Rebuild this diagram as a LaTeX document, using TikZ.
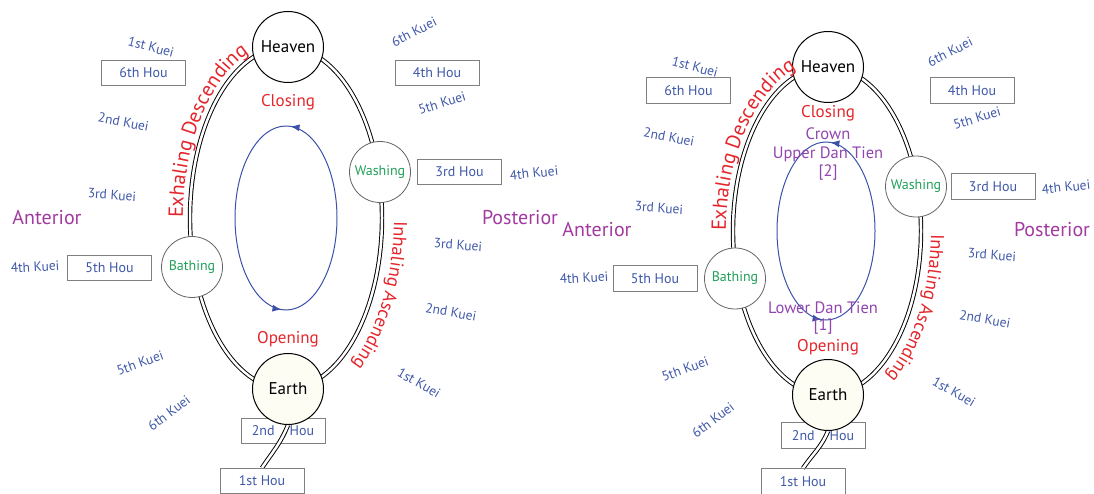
\documentclass[tikz,border=0pt]{standalone}
\usepackage{fontspec}
\setmainfont{PT Sans}
\usetikzlibrary{decorations.text,decorations.markings,arrows.meta}
\pgfdeclarelayer{background}
\pgfsetlayers{background,main}
\definecolor{tred}{RGB}{228,38,44}
\definecolor{tblue}{RGB}{63,88,168}
\definecolor{tgreen}{RGB}{34,160,90}
\definecolor{tpurp}{RGB}{162,58,160}
\definecolor{tviol}{RGB}{145,70,175}
\definecolor{eblue}{RGB}{60,82,170}
\definecolor{boxgray}{RGB}{128,128,128}
\definecolor{ivory}{RGB}{253,253,244}
\begin{document}
\begin{tikzpicture}[x=1pt,y=1pt,
 channel/.style={draw=black, double=white, double distance=2.5pt, line width=0.95pt},
 bigc/.style={circle, draw=black, line width=1pt, fill=white, minimum size=71pt, inner sep=0pt, font=\fontsize{17}{20}\selectfont},
 smallc/.style={circle, draw=black!60, line width=0.8pt, fill=white, minimum size=61pt, inner sep=0pt, text=tgreen, font=\fontsize{14}{16}\selectfont},
 hou/.style={draw=boxgray, line width=0.9pt, minimum width=84pt, minimum height=25.5pt, inner sep=0pt, text=tblue, font=\fontsize{14}{16}\selectfont},
 kuei/.style={text=tblue, font=\fontsize{13.5}{16}\selectfont, inner sep=0pt},
 side/.style={text=tpurp, font=\fontsize{20}{24}\selectfont, inner sep=0pt},
 phase/.style={text=tred, font=\fontsize{17}{20}\selectfont, inner sep=0pt},
 dan/.style={text=tviol, font=\fontsize{16.5}{19}\selectfont, inner sep=0pt},
 orbit/.style={draw=eblue, line width=1pt, postaction={decorate},
   decoration={markings,
     mark=at position #1 with {\arrow{Latex[length=9pt,width=7pt]}},
     mark=at position #1+0.5 with {\arrow{Latex[length=9pt,width=7pt]}}}},
 flowtext/.style n args={2}{decorate, decoration={text along path, text align=left,
   text={|\color{tred}\fontsize{#1}{24}\selectfont|#2}}},
]
\useasboundingbox (0,0) rectangle (1094,493);

%================ LEFT DIAGRAM =================
\node[bigc] (LH) at (288,446) {Heaven};
\node[bigc, fill=ivory] (LE) at (288,104) {Earth};
\node[smallc] (LW) at (380,321) {Washing};
\node[smallc] (LB) at (192,226) {Bathing};
\node[hou] (LH6) at (143.5,420) {6th Hou};
\node[hou] (LH4) at (437,420) {4th Hou};
\node[hou] (LH3) at (459.5,321) {3rd Hou};
\node[hou] (LH5) at (109.5,225) {5th Hou};
\node[hou] (LH1) at (262,12) {1st Hou};
\begin{pgfonlayer}{background}
\draw[channel] (286,275) ellipse [x radius=96, y radius=171];
\node[hou] (LH2) at (283,62) {2nd\hspace{15pt}Hou};
\draw[channel] (LE.south) to[out=-112,in=56] (LH1.north);
\end{pgfonlayer}
\draw[orbit=0.24] (286,275) ellipse [x radius=51, y radius=92];
\node[phase] (LCl) at (288,391) {Closing};
\node[phase] (LOp) at (288,154) {Opening};
\path[flowtext={20.5}{Exhaling Descending}] (183,275) arc[start angle=180, end angle=95, x radius=103, y radius=177];
\path[flowtext={18.5}{Inhaling Ascending}] (394,271.8) arc[start angle=-1, end angle=-80, x radius=108, y radius=185];
\node[side] (LAn) at (47,275) {Anterior};
\node[side] (LPo) at (520,275) {Posterior};
\node[kuei, rotate=-15] (LK1a) at (151,446) {1st Kuei};
\node[kuei, rotate=-11] (LK2a) at (123.5,371) {2nd Kuei};
\node[kuei, rotate=-4] (LK3a) at (112,298) {3rd Kuei};
\node[kuei, rotate=3] (LK4a) at (35,226) {4th Kuei};
\node[kuei, rotate=20] (LK5a) at (140,130) {5th Kuei};
\node[kuei, rotate=37] (LK6a) at (169,80) {6th Kuei};
\node[kuei, rotate=-30] (LK1b) at (419,110) {1st Kuei};
\node[kuei, rotate=-10] (LK2b) at (451,181) {2nd Kuei};
\node[kuei, rotate=-4] (LK3b) at (458,248) {3rd Kuei};
\node[kuei, rotate=6] (LK4b) at (534,320) {4th Kuei};
\node[kuei, rotate=17] (LK5b) at (442,390) {5th Kuei};
\node[kuei, rotate=27] (LK6b) at (414,461) {6th Kuei};

%================ RIGHT DIAGRAM =================
\node[bigc] (RH) at (828,426) {Heaven};
\node[bigc, fill=ivory] (RE) at (828,98) {Earth};
\node[smallc] (RW) at (916,306.5) {Washing};
\node[smallc] (RB) at (735,214.5) {Bathing};
\node[hou] (RH6) at (688.5,402.5) {6th Hou};
\node[hou] (RH4) at (972,402.5) {4th Hou};
\node[hou] (RH3) at (993,306.5) {3rd Hou};
\node[hou] (RH5) at (655,214.5) {5th Hou};
\node[hou] (RH1) at (803,11.5) {1st Hou};
\begin{pgfonlayer}{background}
\draw[channel] (827,262) ellipse [x radius=94, y radius=164];
\node[hou] (RH2) at (823,57.5) {2nd\hspace{15pt}Hou};
\draw[channel] (RE.south) to[out=-112,in=56] (RH1.north);
\end{pgfonlayer}
\draw[orbit=0.24] (826,262) ellipse [x radius=49, y radius=89];
\node[phase] (RCl) at (828,380) {Closing};
\node[dan] (RCr) at (828,359) {Crown};
\node[dan] (RUp) at (828,339) {Upper Dan Tien};
\node[dan] (RU2) at (828,320) {[2]};
\node[dan] (RLo) at (823,185) {Lower Dan Tien};
\node[dan] (RL1) at (823,166) {[1]};
\node[phase] (ROp) at (828,146) {Opening};
\path[flowtext={20.5}{Exhaling Descending}] (726,262) arc[start angle=180, end angle=95, x radius=101, y radius=170];
\path[flowtext={18.5}{Inhaling Ascending}] (931,258.9) arc[start angle=-1, end angle=-80, x radius=104, y radius=176];
\node[side] (RAn) at (597,263) {Anterior};
\node[side] (RPo) at (1052,263) {Posterior};
\node[kuei, rotate=-15] (RK1a) at (695,426) {1st Kuei};
\node[kuei, rotate=-11] (RK2a) at (669,356) {2nd Kuei};
\node[kuei, rotate=-4] (RK3a) at (659,285) {3rd Kuei};
\node[kuei, rotate=3] (RK4a) at (584,215) {4th Kuei};
\node[kuei, rotate=20] (RK5a) at (685,124) {5th Kuei};
\node[kuei, rotate=37] (RK6a) at (713,73) {6th Kuei};
\node[kuei, rotate=-30] (RK1b) at (954,101) {1st Kuei};
\node[kuei, rotate=-10] (RK2b) at (985,174) {2nd Kuei};
\node[kuei, rotate=-4] (RK3b) at (992,238) {3rd Kuei};
\node[kuei, rotate=6] (RK4b) at (1066,306) {4th Kuei};
\node[kuei, rotate=17] (RK5b) at (977,375) {5th Kuei};
\node[kuei, rotate=27] (RK6b) at (950,441) {6th Kuei};
\end{tikzpicture}
\end{document}
